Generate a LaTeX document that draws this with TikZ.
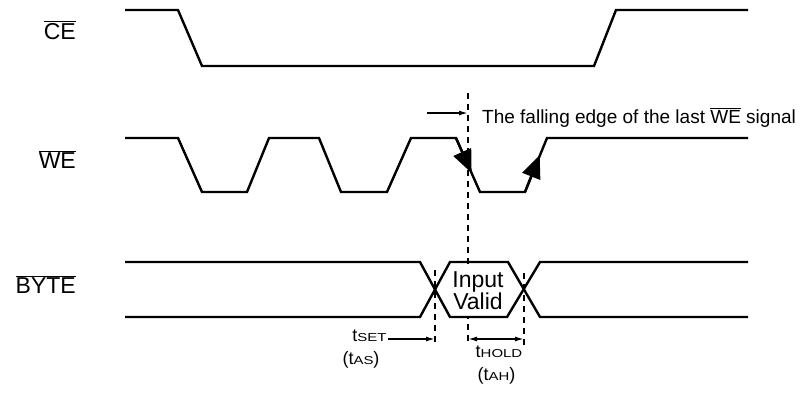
\documentclass[tikz,border=0pt]{standalone}
\usepackage{fontspec}
\setmainfont{Liberation Sans}
\newfontfamily\subfont[FakeStretch=1.3]{Liberation Sans}
\usetikzlibrary{arrows.meta}
\newcommand{\ovl}[1]{$\overline{\mbox{#1}}$}
\newcommand{\sm}[1]{{\subfont\fontsize{11.5}{12}\selectfont #1}}
\begin{document}
\begin{tikzpicture}[x=1pt,y=-1pt,
    sig/.style={line width=2.4pt},
    guide/.style={line width=2pt,dash pattern=on 6pt off 5pt},
    lbl/.style={font=\fontsize{23}{24}\selectfont,anchor=base east,inner sep=0pt},
    tim/.style={font=\fontsize{18}{20}\selectfont,anchor=base,inner sep=0pt},
    marker/.style={line width=1.5pt,-{Latex[length=9pt,width=5pt]}},
    edgetip/.style={line width=2.4pt,-{Triangle[length=23pt,width=19pt]}}]
    \useasboundingbox (0,0) rectangle (804,397);
    % signal names
    \node[lbl] (CE) at (76,39) {\ovl{CE}};
    \node[lbl] (WE) at (76,168) {\ovl{WE}};
    \node[lbl] (BYTE) at (76,293) {\ovl{BYTE}};
    % dashed guides
    \coordinate (s1) at (435,270); \coordinate (s2) at (435,345);
    \coordinate (f1) at (468,93);  \coordinate (f2) at (468,345);
    \coordinate (h1) at (524,273); \coordinate (h2) at (524,345);
    \draw[guide] (s1) -- (s2);
    \draw[guide] (f1) -- (f2);
    \draw[guide] (h1) -- (h2);
    \node[fill=white,font=\fontsize{23}{22}\selectfont,align=center,inner xsep=1pt,inner ysep=6pt] (IV) at (478,290.5) {Input\\Valid};
    % waveforms
    \draw[sig] (125,10) -- (178,10) -- (202,66) -- (594,66) -- (616,10) -- (748,10);
    \draw[sig] (125,138) -- (178,138) -- (202,192) -- (247,192) -- (269,138) -- (319,138)
        -- (341,192) -- (387,192) -- (411,138) -- (456,138) -- (480,192) -- (525,192)
        -- (547,138) -- (748,138);
    \draw[sig] (125,262) -- (420,262) -- (450,317) -- (507,317) -- (540,262) -- (748,262);
    \draw[sig] (125,317) -- (420,317) -- (450,262) -- (508,262) -- (540,317) -- (748,317);
    \draw[edgetip] (456,138) -- (471.6,173);
    \draw[edgetip] (525,192) -- (539.7,155);
    % notes
    \coordinate (m) at (427,113);
    \draw[marker] (m) -- (m -| f1);
    \node[anchor=base west,inner sep=0pt,font=\fontsize{19}{20}\selectfont] (fall) at (482,123) {The falling edge of the last \ovl{WE} signal};
    \node[tim] (tset) at (369.5,341) {t\sm{SET}};
    \node[tim] (tas) at (361,364) {(t\sm{AS})};
    \coordinate (a) at (388,339);
    \draw[marker] (a) -- (a -| s1);
    \coordinate (b) at (468,339);
    \draw[marker,{Latex[length=9pt,width=5pt]}-{Latex[length=9pt,width=5pt]}] (b) -- (b -| h1);
    \node[tim] (thold) at (499,357) {t\sm{HOLD}};
    \node[tim] (tah) at (496.5,380) {(t\sm{AH})};
\end{tikzpicture}
\end{document}
